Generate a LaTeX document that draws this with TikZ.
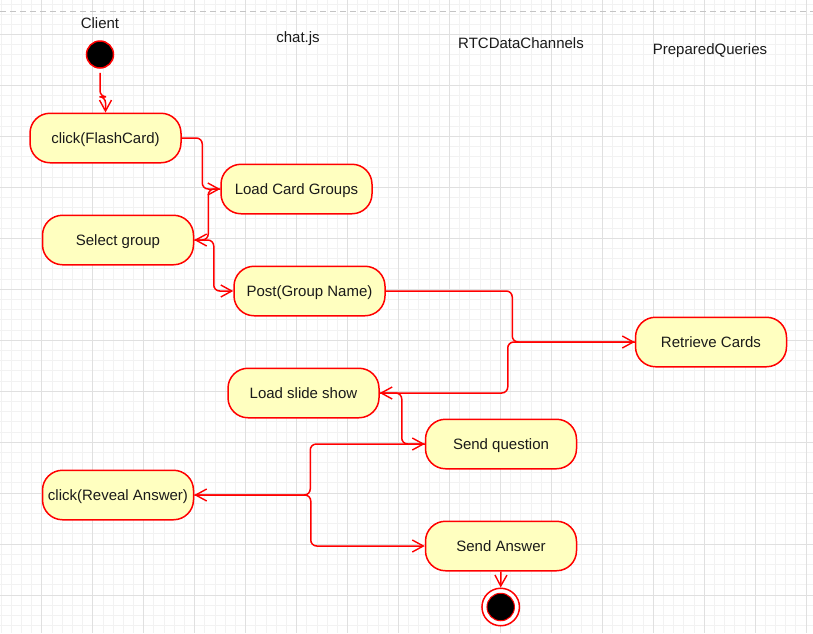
\documentclass[tikz,border=0pt]{standalone}
\usepackage{fontspec}
\setmainfont{Liberation Sans}
\usetikzlibrary{arrows.meta}
\definecolor{boxfill}{HTML}{FFFFC0}
\definecolor{gridmajor}{HTML}{E0E0E0}
\definecolor{gridminor}{HTML}{F2F2F2}
\definecolor{dashgray}{HTML}{C4C4C4}
\definecolor{txt}{HTML}{1A1A1A}
\begin{document}
\begin{tikzpicture}[x=1pt,y=-1pt,
  statebox/.style={draw=red, fill=boxfill, line width=1.5pt, rounded corners=20pt,
    minimum width=151pt, minimum height=49.5pt, inner sep=0pt,
    text height=10.7pt, text depth=0pt,
    font=\fontsize{15}{18}\selectfont, text=txt},
  lanelabel/.style={font=\fontsize{15}{18}\selectfont, text=txt, inner sep=0pt,
    text height=10.7pt, text depth=0pt},
  flow/.style={draw=red, line width=1.5pt, rounded corners=6pt,
    -{Straight Barb[length=11pt,width=12pt,line width=1.4pt]}}
]
\useasboundingbox (0,0) rectangle (813,633);
\begin{scope}
\clip (0,0) rectangle (813,633);
\fill[white] (0,0) rectangle (813,633);
\foreach \i in {-4,...,76} {
  \draw[gridminor, line width=0.8pt] ({41.8+\i*10.19},0) -- ({41.8+\i*10.19},633);
}
\foreach \j in {-3,...,59} {
  \draw[gridminor, line width=0.8pt] (0,{34.5+\j*10.19}) -- (813,{34.5+\j*10.19});
}
\foreach \i in {0,...,15} {
  \draw[gridmajor, line width=0.9pt] ({41.8+\i*50.95},0) -- ({41.8+\i*50.95},633);
}
\foreach \j in {0,...,11} {
  \draw[gridmajor, line width=0.9pt] (0,{34.5+\j*50.95}) -- (813,{34.5+\j*50.95});
}
\end{scope}
\coordinate (dl) at (0,11);
\coordinate (dr) at (813,11);
\draw[dashgray, line width=1pt, dash pattern=on 6pt off 4pt] (dl) -- (dr);

% lane labels
\node[lanelabel] (lclient) at (100,23.5) {Client};
\node[lanelabel] (lchat) at (298,37.5) {chat.js};
\node[lanelabel] (lrtc) at (521,43.5) {RTCDataChannels};
\node[lanelabel] (lpq) at (710,49.5) {PreparedQueries};

% start / end
\node[circle, draw=red, fill=black, line width=1.5pt, minimum size=27pt, inner sep=0pt] (start) at (100,54.5) {};
\node[circle, draw=red, fill=white, line width=1.5pt, minimum size=37.5pt, inner sep=0pt] (end) at (500.7,607) {};
\node[circle, draw=red, fill=black, line width=1pt, minimum size=27.5pt, inner sep=0pt] (endin) at (end) {};

% states
\node[statebox] (cf) at (105.5,138) {click(FlashCard)};
\node[statebox] (lcg) at (296.5,189) {Load Card Groups};
\node[statebox] (sg) at (118,240) {Select group};
\node[statebox] (post) at (309.5,291) {Post(Group Name)};
\node[statebox] (rc) at (711,342) {Retrieve Cards};
\node[statebox] (lss) at (303.5,393) {Load slide show};
\node[statebox] (sq) at (501,444) {Send question};
\node[statebox] (cra) at (118,495) {click(Reveal Answer)};
\node[statebox] (sa) at (501,546) {Send Answer};

% connectors
\draw[flow] ([yshift=-4pt]start.south) -- ++(0,24) -| (cf.north);
\draw[flow] (cf.east) -- ++(20.5,0) |- (lcg.west);
\draw[flow] (lcg.west) -- ++(-12,0) |- (sg.east);
\draw[flow] (sg.east) -- ++(19.5,0) |- (post.west);
\draw[flow] (post.east) -- ++(126.5,0) |- (rc.west);
\draw[flow] (rc.west) -- ++(-127,0) |- (lss.east);
\draw[flow] (lss.east) -- ++(22,0) |- (sq.west);
\draw[flow] (sq.west) -- ++(-114.5,0) |- (cra.east);
\draw[flow] (cra.east) -- ++(116.5,0) |- (sa.west);
\draw[flow] (sa.south) -- (end.north);
\end{tikzpicture}
\end{document}
